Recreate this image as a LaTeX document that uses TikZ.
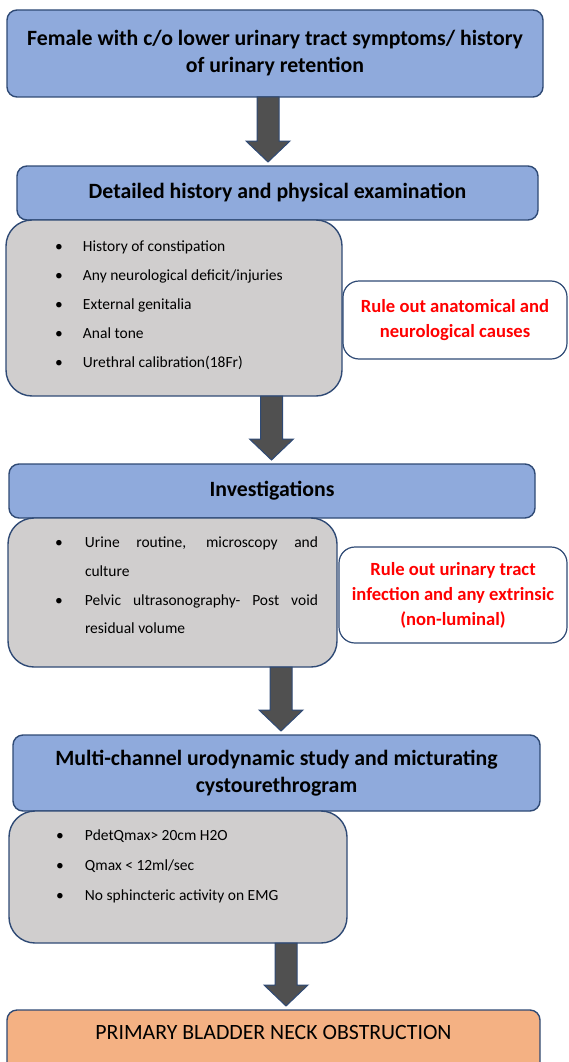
\documentclass[tikz,border=0pt]{standalone}
\usepackage{fontspec}
\setmainfont{Carlito}
\usetikzlibrary{calc}
\definecolor{boxblue}{HTML}{8FAADC}
\definecolor{edgeblue}{HTML}{2F4A75}
\definecolor{boxgray}{HTML}{D0CECE}
\definecolor{boxorange}{HTML}{F4B183}
\definecolor{arrowgray}{HTML}{505050}
\definecolor{rulered}{HTML}{FF0000}
\tikzset{
  every node/.style={inner sep=0pt, outer sep=0pt},
  bluebox/.style={draw=edgeblue, line width=1.4pt, fill=boxblue, rounded corners=10pt,
    anchor=north west, font=\fontsize{21.8}{27}\selectfont\bfseries, align=center},
  graybox/.style={draw=edgeblue, line width=1.4pt, fill=boxgray, rounded corners=26pt, anchor=north west},
  redbox/.style={draw=edgeblue, line width=1.2pt, fill=white, rounded corners=16pt, anchor=north west,
    text=rulered, font=\fontsize{18.6}{25}\selectfont\bfseries, align=center},
  orangebox/.style={draw=edgeblue, line width=1.4pt, fill=boxorange, rounded corners=10pt, anchor=north west},
  item/.style={anchor=base west, font=\fontsize{15.5}{18}\selectfont},
  blockarr/.style={draw=edgeblue, line width=1pt, fill=arrowgray, line join=miter},
}
\newcommand\blockarrow[3]{%
  \draw[blockarr] let \p1=(#1.south), \p2=(#2.north) in
    (#3pt-11pt,\y1) -- (#3pt-11pt,\y2+25pt) -- (#3pt-22pt,\y2+25pt) -- (#3pt,\y2+4pt)
    -- (#3pt+22pt,\y2+25pt) -- (#3pt+11pt,\y2+25pt) -- (#3pt+11pt,\y1) -- cycle;}
\begin{document}
\begin{tikzpicture}[x=1pt,y=-1pt]
\useasboundingbox (0,0) rectangle (568,1062);
% Box 1
\node[bluebox, minimum width=536pt, minimum height=87pt] (b1) at (7,10)
  {Female with c/o lower urinary tract symptoms/ history\\of urinary retention};
% Box 2
\node[bluebox, minimum width=521pt, minimum height=54pt] (b2) at (17,166)
  {Detailed history and physical examination};
% Gray 1
\node[graybox, minimum width=336pt, minimum height=176pt] (g1) at (6,220) {};
\node[item] (g1a) at (55,251) {\makebox[28pt][l]{\textbullet}History of constipation};
\node[item] (g1b) at (55,280) {\makebox[28pt][l]{\textbullet}Any neurological deficit/injuries};
\node[item] (g1c) at (55,309) {\makebox[28pt][l]{\textbullet}External genitalia};
\node[item] (g1d) at (55,338) {\makebox[28pt][l]{\textbullet}Anal tone};
\node[item] (g1e) at (55,367) {\makebox[28pt][l]{\textbullet}Urethral calibration(18Fr)};
% Red 1
\node[redbox, minimum width=224pt, minimum height=78pt] (r1) at (343,281)
  {Rule out anatomical and\\neurological causes};
% Box 3
\node[bluebox, minimum width=526pt, minimum height=54pt] (b3) at (9,464) {Investigations};
% Gray 2
\node[graybox, minimum width=329pt, minimum height=149pt] (g2) at (8,518) {};
\node[item] (g2a) at (55,547) {\makebox[30pt][l]{\textbullet}\makebox[233pt][s]{Urine routine, microscopy and}};
\node[item] (g2b) at (85,576) {culture};
\node[item] (g2c) at (55,605) {\makebox[30pt][l]{\textbullet}\makebox[233pt][s]{Pelvic ultrasonography- Post void}};
\node[item] (g2d) at (85,633) {residual volume};
% Red 2
\node[redbox, minimum width=228pt, minimum height=96pt] (r2) at (339,547)
  {Rule out urinary tract\\infection and any extrinsic\\(non-luminal)};
% Box 4
\node[bluebox, minimum width=527pt, minimum height=76pt] (b4) at (13,735)
  {Multi-channel urodynamic study and micturating\\cystourethrogram};
% Gray 3
\node[graybox, minimum width=338pt, minimum height=132pt] (g3) at (9,811) {};
\node[item] (g3a) at (56,840) {\makebox[29pt][l]{\textbullet}PdetQmax> 20cm H2O};
\node[item] (g3b) at (56,870) {\makebox[29pt][l]{\textbullet}Qmax < 12ml/sec};
\node[item] (g3c) at (56,900) {\makebox[29pt][l]{\textbullet}No sphincteric activity on EMG};
% Box 5
\node[orangebox, minimum width=533pt, minimum height=70pt] (b5) at (7,1010) {};
\node[font=\fontsize{21.8}{26}\selectfont] (b5t) at (273.5,1032) {PRIMARY BLADDER NECK OBSTRUCTION};
% Arrows
\blockarrow{b1}{b2}{268}
\blockarrow{g1}{b3}{271.5}
\blockarrow{g2}{b4}{281}
\blockarrow{g3}{b5}{286}
\end{tikzpicture}
\end{document}
